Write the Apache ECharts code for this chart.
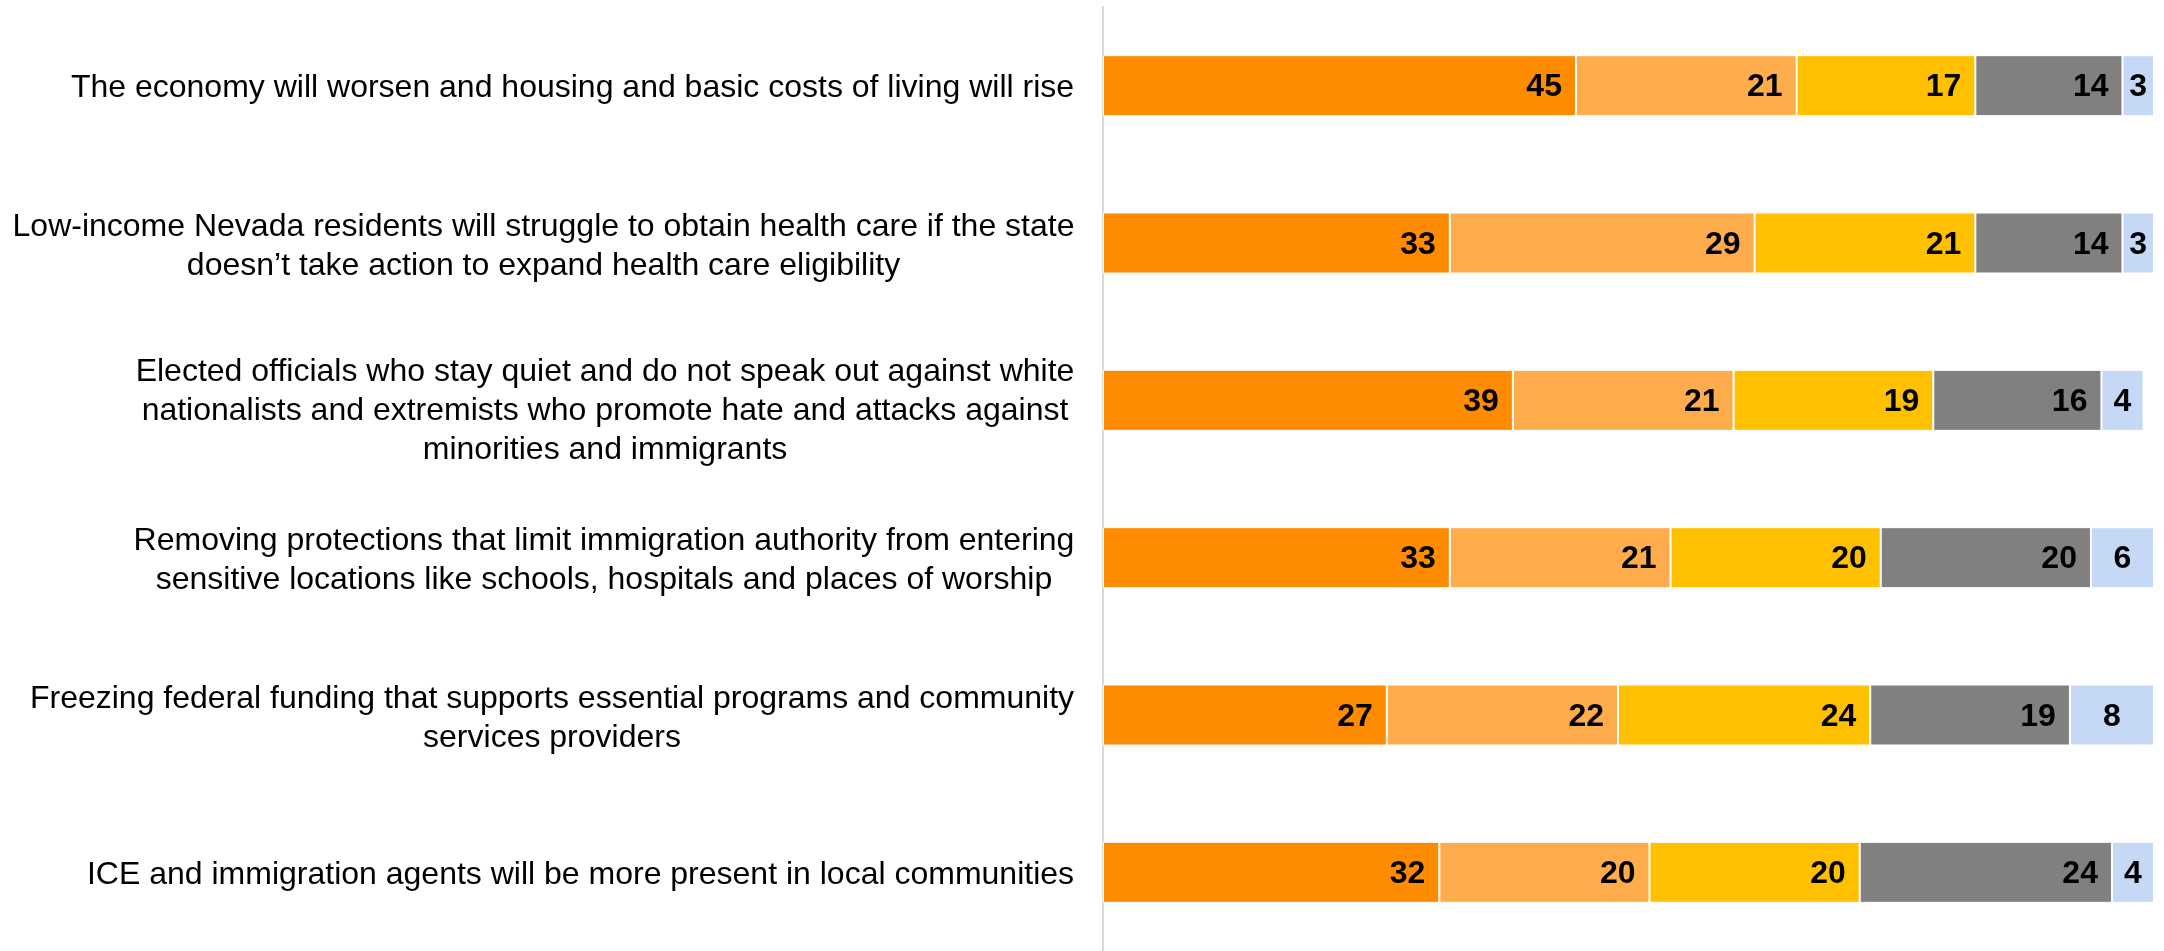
<!DOCTYPE html>
<html>
<head>
<meta charset="utf-8">
<script src="https://cdn.jsdelivr.net/npm/echarts@6/dist/echarts.min.js"></script>
<style>
html,body{margin:0;padding:0;background:#fff;}
#chart{width:2164px;height:951px;}
</style>
</head>
<body>
<div id="chart"></div>
<script>
const categories = [
  "The economy will worsen and housing and basic costs of living will rise",
  "Low-income Nevada residents will struggle to obtain health care if the state\ndoesn\u2019t take action to expand health care eligibility",
  "Elected officials who stay quiet and do not speak out against white\nnationalists and extremists who promote hate and attacks against\nminorities and immigrants",
  "Removing protections that limit immigration authority from entering\nsensitive locations like schools, hospitals and places of worship",
  "Freezing federal funding that supports essential programs and community\nservices providers",
  "ICE and immigration agents will be more present in local communities"
];
const seriesA = [45, 33, 39, 33, 27, 32];
const seriesB = [21, 29, 21, 21, 22, 20];
const seriesC = [17, 21, 19, 20, 24, 20];
const seriesD = [14, 14, 16, 20, 19, 24];
const seriesE = [3, 3, 4, 6, 8, 4];

const colors = ["#FF8C00", "#FFAC4C", "#FFC000", "#808080", "#C5D8F5"];
const seriesData = [seriesA, seriesB, seriesC, seriesD, seriesE];

const LABEL_FONT = "Liberation Sans";
const LABEL_SIZE = 32;
const LINE_H = 39;
const labelShift = [3, 4, 11, 3, 4, 3];
const ctx = document.createElement('canvas').getContext('2d');
ctx.font = LABEL_SIZE + "px '" + LABEL_FONT + "'";
const rich = {};
categories.forEach((c, i) => {
  const w = Math.max(...c.split('\n').map(l => ctx.measureText(l).width));
  rich['c' + i] = {
    width: Math.ceil(w) + 1,
    align: 'center',
    fontFamily: LABEL_FONT,
    fontSize: LABEL_SIZE,
    lineHeight: LINE_H,
    color: '#000'
  };
});
const yData = categories.map((c, i) => ({
  value: c,
  textStyle: {padding: [labelShift[i] * 2, 0, 0, 0]}
}));

const chart = echarts.init(document.getElementById('chart'), null, {renderer: 'canvas'});
const series = seriesData.map((d, i) => ({
  type: 'bar',
  stack: 'total',
  data: d,
  barWidth: 61,
  itemStyle: {color: colors[i], borderColor: '#ffffff', borderWidth: 1},
  label: {
    show: true,
    position: i === 4 ? 'inside' : 'insideRight',
    distance: 14,
    offset: [0, 2],
    color: '#000',
    fontFamily: LABEL_FONT,
    fontWeight: 'bold',
    fontSize: 32
  },
  emphasis: {disabled: true},
  animation: false
}));

chart.setOption({
  animation: false,
  grid: {left: 1103, right: 10, top: 7, bottom: 0, containLabel: false},
  xAxis: {
    type: 'value', min: 0, max: 100,
    show: false
  },
  yAxis: {
    type: 'category',
    data: yData,
    inverse: true,
    axisLine: {show: true, lineStyle: {color: '#D9D9D9', width: 2}},
    axisTick: {show: false},
    axisLabel: {
      margin: 28,
      align: 'right',
      fontFamily: LABEL_FONT,
      fontSize: LABEL_SIZE,
      lineHeight: LINE_H,
      color: '#000',
      formatter: function (value, index) {
        return value.split('\n').map(l => '{c' + index + '|' + l + '}').join('\n');
      },
      rich: rich
    }
  },
  series: series
});
</script>
</body>
</html>
